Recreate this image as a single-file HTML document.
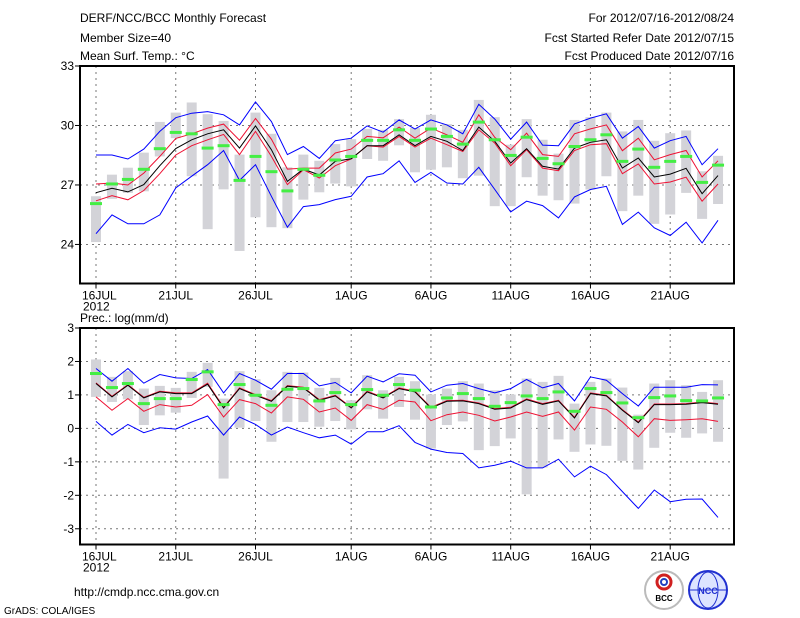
<!DOCTYPE html>
<html><head><meta charset="utf-8">
<style>
body{margin:0;background:#fff;}
svg{display:block;font-family:"Liberation Sans",sans-serif;}
text{font-size:12px;fill:#000;}
</style></head>
<body>
<svg id="chart" width="800" height="618" viewBox="0 0 800 618">
<text x="80" y="22">DERF/NCC/BCC Monthly Forecast</text>
<text x="80" y="42">Member Size=40</text>
<text x="80" y="60">Mean Surf. Temp.: °C</text>
<text x="734" y="22" text-anchor="end">For 2012/07/16-2012/08/24</text>
<text x="734" y="42" text-anchor="end">Fcst Started Refer Date 2012/07/15</text>
<text x="734" y="60" text-anchor="end">Fcst Produced Date 2012/07/16</text>
<text x="80" y="322">Prec.: log(mm/d)</text>
<text x="74" y="596">http://cmdp.ncc.cma.gov.cn</text>
<text x="4" y="614" style="font-size:10px">GrADS: COLA/IGES</text>
<g>
<circle cx="664" cy="590" r="19" fill="#fff" stroke="#bbb" stroke-width="2"/>
<circle cx="664" cy="582" r="7" fill="none" stroke="#d02020" stroke-width="3"/>
<circle cx="664" cy="582" r="3" fill="none" stroke="#2040c0" stroke-width="2"/>
<text x="664" y="601" text-anchor="middle" style="font-size:8px;font-weight:bold">BCC</text>
</g>
<g>
<circle cx="708" cy="590" r="19" fill="#dde4ff" stroke="#2030d0" stroke-width="2"/>
<ellipse cx="708" cy="590" rx="10" ry="18" fill="none" stroke="#2030d0"/>
<line x1="690" y1="590" x2="726" y2="590" stroke="#2030d0"/>
<text x="708" y="594" text-anchor="middle" style="font-size:9px;font-weight:bold;fill:#2030d0">NCC</text>
</g>
<g id="p1"></g>
<g id="p2"></g>
</svg>
<script>
// Temperature panel data (°C), days 0..39 from 16JUL
const tBlueUp=[28.51,28.51,28.31,28.81,29.70,30.39,30.62,30.70,30.54,30.03,31.19,30.20,28.53,28.94,28.34,29.23,29.36,29.98,29.66,30.28,29.82,30.28,30.03,29.58,31.07,30.32,29.31,30.17,29.01,28.98,30.08,30.37,30.59,29.36,29.95,28.86,29.23,29.45,28.02,28.83];
const tRedUp=[27.05,27.10,27.00,27.60,28.44,29.35,29.58,29.87,30.07,29.26,30.35,29.31,27.80,27.85,27.85,28.61,28.81,29.45,29.38,29.92,29.36,29.87,29.53,29.15,30.54,29.40,28.78,29.61,28.53,28.44,29.58,29.83,30.03,28.73,29.36,28.27,28.53,28.74,27.40,28.22];
const tMedian=[26.61,26.83,26.65,27.02,27.97,28.84,29.28,29.58,29.78,28.86,29.98,28.78,27.18,27.80,27.50,28.19,28.32,28.98,28.98,29.53,28.98,29.45,29.20,28.74,29.92,29.20,28.11,28.83,27.94,27.80,28.86,29.15,29.28,27.85,28.36,27.40,27.55,27.84,26.56,27.47];
const tRedLo=[26.20,26.46,26.25,26.72,27.57,28.51,28.98,29.28,29.55,28.53,29.70,28.44,27.02,27.77,27.35,27.97,28.31,28.98,28.91,29.45,28.91,29.36,29.03,28.69,29.78,29.11,27.97,28.78,27.85,27.72,28.74,29.03,29.08,27.57,28.06,27.05,27.15,27.39,26.18,27.05];
const tBlueLo=[24.54,25.49,25.04,25.04,25.49,26.85,27.44,28.02,28.74,27.23,28.02,26.43,24.87,25.91,26.01,26.26,26.43,27.40,27.57,28.22,27.13,27.64,27.10,27.05,27.89,26.77,25.64,26.18,25.96,25.34,26.40,26.77,26.93,25.01,25.63,24.84,24.45,25.12,24.08,25.22];
const tGreen=[26.06,27.05,27.28,27.79,28.83,29.65,29.58,28.86,28.98,27.23,28.44,27.67,26.70,27.79,27.49,28.26,28.44,29.25,29.25,29.78,29.25,29.82,29.45,29.06,30.17,29.28,28.49,29.41,28.34,28.07,28.94,29.28,29.53,28.19,28.81,27.89,28.19,28.44,27.13,28.00];
const tBoxTop=[26.43,27.52,27.87,28.63,30.18,30.65,31.16,30.57,30.23,28.53,30.65,29.58,27.89,28.53,28.22,29.06,29.31,29.83,29.78,30.32,29.87,30.54,30.07,29.78,31.29,30.42,29.03,30.32,29.28,28.58,30.28,30.42,30.65,29.70,30.28,29.23,29.61,29.75,27.69,28.47];
const tBoxBot=[24.12,26.30,26.60,26.68,28.44,29.36,27.44,24.77,26.78,23.67,25.37,24.87,24.82,26.26,26.63,27.07,26.93,28.31,28.22,29.00,27.64,27.77,27.89,27.34,27.47,25.93,25.93,27.39,26.46,26.23,26.06,26.77,27.44,25.68,26.46,25.04,25.51,26.60,25.29,26.04];
const tTicks=[33,30,27,24];
// Precipitation panel data (log mm/d)
const pBlueUp=[1.79,1.41,1.79,1.35,1.61,1.51,1.49,1.76,1.06,1.64,1.44,1.17,1.64,1.64,1.27,1.37,1.06,1.56,1.39,1.63,1.59,1.09,1.29,1.34,1.19,1.06,1.19,1.46,1.21,1.34,0.82,1.54,1.44,1.04,0.67,1.23,1.23,1.23,1.31,1.30];
const pMedian=[1.34,0.94,1.29,0.91,1.09,1.04,1.04,1.32,0.61,1.19,0.99,0.81,1.26,1.21,0.84,0.97,0.61,1.09,0.91,1.19,1.09,0.61,0.81,0.82,0.74,0.57,0.61,0.86,0.72,0.82,0.31,1.04,0.97,0.54,0.17,0.71,0.71,0.72,0.77,0.72];
const pRedUp=[1.36,0.96,1.31,0.93,1.11,1.06,1.06,1.35,0.63,1.21,1.01,0.83,1.28,1.23,0.86,0.99,0.63,1.11,0.93,1.21,1.11,0.63,0.83,0.84,0.76,0.59,0.63,0.88,0.74,0.84,0.33,1.06,0.99,0.56,0.19,0.73,0.73,0.74,0.79,0.74];
const pRedLo=[0.94,0.54,0.89,0.51,0.71,0.64,0.69,1.01,0.34,0.86,0.74,0.46,0.94,0.87,0.49,0.61,0.24,0.71,0.57,0.84,0.79,0.23,0.41,0.49,0.39,0.22,0.34,0.49,0.36,0.49,-0.05,0.64,0.57,0.19,-0.25,0.29,0.24,0.26,0.29,0.21];
const pBlueLo=[0.21,-0.20,0.12,-0.13,0.02,-0.02,0.19,0.37,-0.20,0.34,0.12,-0.20,0.04,-0.13,-0.28,-0.20,-0.47,-0.10,-0.10,0.08,-0.42,-0.62,-0.72,-0.75,-1.18,-1.10,-0.98,-1.18,-1.18,-0.92,-1.45,-1.13,-1.38,-1.89,-2.39,-1.84,-2.19,-2.12,-2.11,-2.66];
const pGreen=[1.64,1.22,1.34,0.74,0.89,0.89,1.46,1.69,0.71,1.31,0.99,0.69,1.17,1.19,0.82,1.07,0.71,1.16,0.99,1.31,1.14,0.64,0.91,1.04,0.89,0.66,0.77,0.97,0.89,1.09,0.51,1.19,1.07,0.76,0.32,0.92,0.97,0.83,0.82,0.91];
const pBoxTop=[2.06,1.54,1.71,1.19,1.27,1.21,1.69,1.96,0.89,1.71,1.47,1.14,1.69,1.67,1.21,1.51,0.84,1.59,1.14,1.54,1.41,1.01,1.19,1.41,1.34,1.14,1.01,1.49,1.39,1.57,0.74,1.39,1.49,1.22,0.41,1.34,1.44,1.29,1.09,1.44];
const pBoxBot=[0.94,0.79,0.87,0.10,0.39,0.47,0.91,1.24,-1.50,0.02,0.22,-0.40,0.19,0.19,0.05,0.22,-0.03,0.57,0.29,0.64,0.26,-0.60,0.10,0.21,-0.65,-0.53,-0.30,-1.97,-1.17,-0.33,-0.70,-0.48,-0.52,-0.97,-1.23,-0.58,-0.13,-0.28,-0.15,-0.40];
const pTicks=[3,2,1,0,-1,-2,-3];
const xTickDays=[0,5,10,16,21,26,31,36];
const xTickLabels=['16JUL','21JUL','26JUL','1AUG','6AUG','11AUG','16AUG','21AUG'];

const NS='http://www.w3.org/2000/svg';
const X0=80,X1=734;
function xs(d){return 96+d*15.95;}
function mk(parent,tag,attrs){const e=document.createElementNS(NS,tag);for(const k in attrs)e.setAttribute(k,attrs[k]);parent.appendChild(e);return e;}

function panel(g,top,bot,vmax,vmin,ticks,series,prefix){
  const ys=v=>top+(vmax-v)/(vmax-vmin)*(bot-top);
  // grid
  ticks.forEach(t=>{const y=ys(t);
    if(t!==vmax){const l=mk(g,'line',{x1:X0,x2:X1,y1:y,y2:y,stroke:'#777','stroke-dasharray':'2,4','stroke-width':1});
    
    }
    const tk=mk(g,'line',{x1:X0-5,x2:X0,y1:y,y2:y,stroke:'#000'});
    
    
    const tx=mk(g,'text',{x:X0-6,y:y+4,'text-anchor':'end'});tx.textContent=t;
    
    
  });
  xTickDays.forEach((d,i)=>{const x=xs(d);
    const l=mk(g,'line',{x1:x,x2:x,y1:top,y2:bot,stroke:'#777','stroke-dasharray':'2,4'});
    
    
    const tk=mk(g,'line',{x1:x,x2:x,y1:bot,y2:bot+5,stroke:'#000'});
    
    
    const tx=mk(g,'text',{x:x,y:bot+16,'text-anchor':i===0?'start':'middle'});
    if(i===0)tx.setAttribute('x',x-14);
    tx.textContent=xTickLabels[i];
    
    
  });
  const yr=mk(g,'text',{x:xs(0)-13,y:bot+27});yr.textContent='2012';
  
  
  // boxes
  series.boxTop.forEach((v,i)=>{const y1=ys(v),y2=ys(series.boxBot[i]);
    const r=mk(g,'rect',{x:xs(i)-5,y:y1,width:10,height:y2-y1,fill:'#d3d3d8'});
    
    
  });
  const lines=[[series.blueUp,'#0000ff','upper-bound-line'],[series.blueLo,'#0000ff','lower-bound-line'],[series.redUp,'#ee1133','upper-quartile-line'],[series.redLo,'#ee1133','lower-quartile-line'],[series.median,'#000','median-line']];
  lines.forEach(([arr,c,n])=>{
    const p=mk(g,'polyline',{points:arr.map((v,i)=>xs(i).toFixed(1)+','+ys(v).toFixed(1)).join(' '),fill:'none',stroke:c,'stroke-width':1});
    
    
  });
  series.green.forEach((v,i)=>{
    const r=mk(g,'rect',{x:xs(i)-6,y:ys(v)-1.5,width:12,height:3,fill:'#44ee44'});
    
    
  });
  const f=mk(g,'rect',{x:X0,y:top,width:X1-X0,height:bot-top,fill:'none',stroke:'#000','stroke-width':2});
  
  
}
panel(document.getElementById('p1'),66,283.5,33,22.03,tTicks,{boxTop:tBoxTop,boxBot:tBoxBot,blueUp:tBlueUp,blueLo:tBlueLo,redUp:tRedUp,redLo:tRedLo,median:tMedian,green:tGreen},'temp');
panel(document.getElementById('p2'),328,544.5,3,-3.47,pTicks,{boxTop:pBoxTop,boxBot:pBoxBot,blueUp:pBlueUp,blueLo:pBlueLo,redUp:pRedUp,redLo:pRedLo,median:pMedian,green:pGreen},'prec');
</script>
</body></html>
